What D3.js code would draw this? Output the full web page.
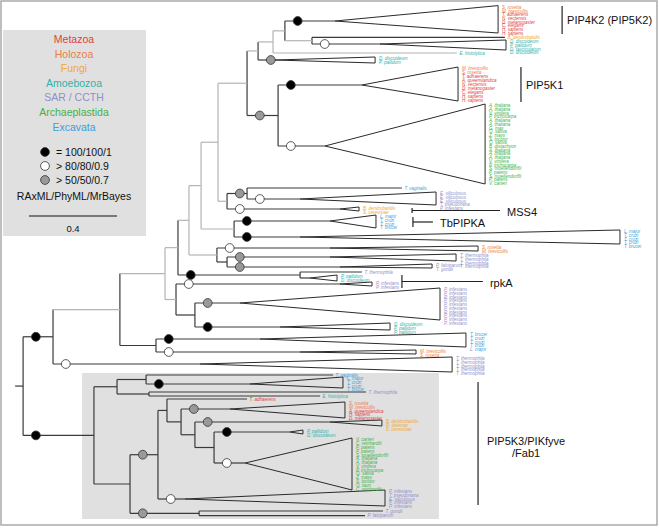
<!DOCTYPE html>
<html><head><meta charset="utf-8">
<script src="https://cdn.jsdelivr.net/npm/d3@7"></script>
<style>body{margin:0;background:#fff}svg{display:block}</style>
</head><body><svg id="c" width="659" height="528"></svg>
<script>
// ---------- DATA ----------
const groups = ["Metazoa","Holozoa","Fungi","Amoebozoa","SAR / CCTH","Archaeplastida","Excavata"];
const supportKeys = ["B","W","G"];
const supportLabels = ["= 100/100/1","> 80/80/0.9","> 50/50/0.7"];
const methodsLabel = "RAxML/PhyML/MrBayes";
const scaleBarValue = 0.4;

// internal nodes: [id, parent, depth (subst./site), support]  (support: B/W/G, "-" unmarked, "." unresolved)
const nodes = [
 ["R",null,0.105,"-"],["U","R",0.241,"B"],["X9","U",0.545,"."],["X3","X9",0.75,"."],
 ["Np","X3",0.809,"."],["Nl","Np",0.859,"."],["Nj","Nl",0.914,"."],["Ng","Nj",0.991,"."],
 ["Ne","Ng",1.123,"."],["Nd","Ne",1.173,"."],["Nc","Nd",1.241,"."],["Na","Nc",1.295,"."],
 ["Nb","Na",1.418,"."],["Nf","Ne",1.264,"G"],["Nh","Ng",1.032,"."],["Ni","Nh",1.123,"G"],
 ["Nk","Nj",1.064,"."],["Nm","Nl",0.986,"."],["Nn","Nm",1.032,"-"],["Rp","Np",1.364,"B"],
 ["X2","X3",0.8,"."],["X6","X2",0.886,"-"],["X4","X9",0.709,"-"],
 ["B0","R",0.427,"B"],["B1","B0",0.532,"-"],["B2","B1",0.664,"-"],["B3","B1",0.677,"-"],
 ["B5","B0",0.591,"-"],["B6","B5",0.718,"G"],["B7","B6",0.759,"-"],["B8","B7",0.823,"-"],
 ["B9","B8",0.886,"-"],["B9b","B9",0.973,"-"],["B10","B5",0.905,"G"]
];
// single tips: [id, parent, depth, row, support, name, group]
const leaves = [
 ["Fu1","Nb",2.295,9.35,"-","B. dendrobatidis",2],
 ["Eh1","Nc",2.077,13.25,".","E. histolytica",3],
 ["Tv1","Ni",1.827,47.0,"-","T. vaginalis",6],
 ["Tt1","Rp",1.645,68.0,"-","T. thermophila",4],
 ["Tv2","B2",1.514,93.75,"-","T. vaginalis",6],
 ["Tt2","B3",1.664,98.0,"-","T. thermophila",4],
 ["Eh2","B3",1.455,99.0,"-","E. histolytica",3],
 ["Ta","B7",1.123,99.75,"-","T. adhaerens",0],
 ["Tg","B10",1.741,127.75,"-","T. gondii",4],
 ["Pf","B10",1.659,128.9,"-","P. falciparum",4]
];
// collapsed clades: [id, parent, apex depth, tip depth, top row, bottom row, stem row, support]
const clades = [
 ["PIP4K2","Na",1.523,2.264,1.4,8.25,5.25,"B"],
 ["AmA","Nb",1.727,2.3,10,12.5,11,"W"],
 ["AmB","Nd",1.25,1.705,14.25,15.75,15,"G"],
 ["P5K1","Nf",1.645,2.082,16.75,25.25,21.25,"B"],
 ["ArA","Nf",1.477,2.205,26,46,36.5,"W"],
 ["SaA","Ni",1.364,1.982,48,51.25,49.75,"W"],
 ["FuM","Nh",1.545,1.632,51.75,52.75,52.25,"W"],
 ["TbP","Nk",1.5,1.709,53.75,57,55.25,"B"],
 ["ExL","Nk",1.364,2.818,57.5,61,59.25,"B"],
 ["Ho1","Nm",1.5,2.173,61.5,62.75,62,"W"],
 ["Tt4","Nn",1.5,2.073,63.5,65.25,64.25,"G"],
 ["PfT","Nn",1.545,1.964,66,67,66.75,"G"],
 ["AmR","Rp",1.409,1.532,68.75,70.25,69.5,"-"],
 ["PiB","X2",1.545,1.691,70.5,71.5,71,"W"],
 ["PiL","X6",1.091,2.0,72,80,75.75,"G"],
 ["AmC","X6",1.273,1.773,80.75,82.5,81.75,"B"],
 ["ExC","X4",1.182,2.118,83.25,86.75,84.75,"B"],
 ["Ho2","X4",1.364,1.891,87.5,88.5,88,"W"],
 ["Tt5","U",0.909,2.055,89.25,93,91,"W"],
 ["ExB","B2",1.136,1.559,94.25,97,96,"B"],
 ["MeB","B8",1.045,1.568,100.5,104.5,102.25,"G"],
 ["FuB","B9",1.5,1.736,105,106.5,105.5,"G"],
 ["AmB2","B9b",1.318,1.377,107.5,108.5,108,"B"],
 ["ArB","B9b",1.114,1.6,109.5,122.5,115.75,"W"],
 ["SaB","B6",0.841,1.75,122.5,126.5,124.75,"W"]
];
const rep = (n, g, s) => Array.from({length:n}, () => [g, s]);
// tip names of collapsed clades: [clade, [[group, name], ...]]
const cladeTips = [
 ["PIP4K2",[[1,"S. rosetta"],[1,"M. brevicollis"],[0,"T. adhaerens"],[0,"N. vectensis"],[0,"D. melanogaster"],[0,"C. elegans"],[0,"H. sapiens"],[0,"H. sapiens"]]],
 ["AmA",[[3,"D. discoideum"],[3,"P. pallidum"],[3,"D. fasciculatum"],[3,"D. discoideum"]]],
 ["AmB",[[3,"D. discoideum"],[3,"P. pallidum"]]],
 ["P5K1",[[1,"M. brevicollis"],[1,"S. rosetta"],[0,"T. adhaerens"],[0,"A. queenslandica"],[0,"N. vectensis"],[0,"D. melanogaster"],[0,"C. elegans"],[0,"H. sapiens"],[0,"H. sapiens"]]],
 ["ArA",[[5,"A. thaliana"],[5,"A. thaliana"],[5,"V. vinifera"],[5,"P. trichocarpa"],[5,"A. thaliana"],[5,"A. thaliana"],[5,"G. max"],[5,"O. sativa"],[5,"Z. mays"],[5,"S. bicolor"],[5,"O. sativa"],[5,"B. distachyon"],[5,"A. thaliana"],[5,"A. thaliana"],[5,"A. thaliana"],[5,"V. vinifera"],[5,"P. trichocarpa"],[5,"S. moellendorffii"],[5,"P. patens"],[5,"S. moellendorffii"],[5,"P. patens"],[5,"V. carteri"]]],
 ["SaA",[[4,"E. siliculosus"],[4,"E. siliculosus"],[4,"E. siliculosus"],[4,"T. pseudonana"],[4,"P. infestans"]]],
 ["FuM",[[2,"B. dendrobatidis"],[2,"S. cerevisiae"]]],
 ["TbP",[[6,"L. major"],[6,"T. cruzi"],[6,"T. cruzi"],[6,"T. brucei"]]],
 ["ExL",[[6,"L. major"],[6,"T. cruzi"],[6,"T. cruzi"],[6,"T. cruzi"],[6,"T. brucei"]]],
 ["Ho1",[[1,"S. rosetta"],[1,"M. brevicollis"]]],
 ["Tt4",rep(4,4,"T. thermophila")],
 ["PfT",[[4,"P. falciparum"],[4,"T. gondii"]]],
 ["AmR",[[3,"P. pallidum"],[3,"D. discoideum"]]],
 ["PiB",rep(2,4,"P. infestans")],
 ["PiL",rep(10,4,"P. infestans")],
 ["AmC",[[3,"D. discoideum"],[3,"P. pallidum"],[3,"P. pallidum"]]],
 ["ExC",[[6,"T. brucei"],[6,"T. cruzi"],[6,"T. cruzi"],[6,"T. cruzi"],[6,"L. major"]]],
 ["Ho2",[[1,"M. brevicollis"],[1,"S. rosetta"]]],
 ["Tt5",rep(5,4,"T. thermophila")],
 ["ExB",[[6,"L. major"],[6,"T. cruzi"],[6,"T. cruzi"],[6,"T. brucei"]]],
 ["MeB",[[1,"S. rosetta"],[1,"M. brevicollis"],[0,"A. queenslandica"],[0,"H. sapiens"],[0,"D. melanogaster"]]],
 ["FuB",[[2,"B. dendrobatidis"],[2,"R. delemar"],[2,"S. cerevisiae"]]],
 ["AmB2",[[3,"P. pallidum"],[3,"D. discoideum"]]],
 ["ArB",[[5,"V. carteri"],[5,"C. reinhardtii"],[5,"P. patens"],[5,"P. patens"],[5,"S. moellendorffii"],[5,"A. thaliana"],[5,"A. thaliana"],[5,"V. vinifera"],[5,"P. trichocarpa"],[5,"O. sativa"],[5,"Z. mays"],[5,"S. bicolor"],[5,"O. tauri"],[5,"C. reinhardtii"]]],
 ["SaB",[[4,"P. infestans"],[4,"T. pseudonana"],[4,"E. siliculosus"],[4,"P. infestans"],[4,"P. infestans"]]]
];
// family annotations: [text lines, bar depth, top row, bottom row, kind, line end depth]
const families = [
 [["PIP4K2 (PIP5K2)"],2.555,1.5,8.5,"bar",null],
 [["PIP5K1"],2.368,16.75,25.5,"bar",null],
 [["MSS4"],1.873,52.0,53.25,"tick",2.273],
 [["TbPIPKA"],1.877,54.25,56.75,"tick",1.968],
 [["rpkA"],1.827,68.75,72,"tick",2.195],
 [["PIP5K3/PIKfyve","/Fab1"],2.173,95.5,126.25,"bar",null]
];
// shaded PIP5K3 group: [left depth, right depth, top row, bottom row]
const shadedGroup = [0.373, 1.995, 93.25, 129.75];

// ---------- STYLE / LAYOUT ----------
const groupColors = ["#e2403d","#ee7c45","#f2a933","#2db3ac","#8f8fcd","#3db34a","#3b9fd9"];
const supportFill = {B:"#000", W:"#fff", G:"#999"};
const DARK = "#3a3a3a", LIGHT = "#b4b4b4";
const FONT = "'Liberation Sans', Arial, sans-serif";

const svg = d3.select("#c");
const x = d3.scaleLinear().domain([0, 3]).range([0, 660]);
const y = d3.scaleLinear().domain([0, 132]).range([0, 528]);

// frame
svg.append("rect").attr("x",1).attr("y",1).attr("width",656).attr("height",524)
   .attr("fill","none").attr("stroke","#aaa").attr("stroke-width",1.5);

// shaded group
svg.append("rect").attr("x",x(shadedGroup[0])).attr("y",y(shadedGroup[2]))
   .attr("width",x(shadedGroup[1])-x(shadedGroup[0])).attr("height",y(shadedGroup[3])-y(shadedGroup[2]))
   .attr("fill","#e0e0e0");

// ---------- build tree ----------
const byId = new Map();
nodes.forEach(d => byId.set(d[0], {id:d[0], parent:d[1], x:d[2], sup:d[3], type:"node", kids:[]}));
leaves.forEach(d => byId.set(d[0], {id:d[0], parent:d[1], x:d[2], y:d[3], sup:d[4], name:d[5], g:d[6], type:"leaf"}));
clades.forEach(d => byId.set(d[0], {id:d[0], parent:d[1], x:d[2], tip:d[3], top:d[4], bot:d[5], y:d[6], sup:d[7], type:"clade"}));
byId.forEach(n => { if (n.parent) byId.get(n.parent).kids.push(n); });
function setY(n){ if (n.type !== "node") return n.y;
  const ys = n.kids.map(setY); n.y = (d3.min(ys) + d3.max(ys)) / 2; n.lo = d3.min(ys); n.hi = d3.max(ys); return n.y; }
const root = byId.get("R"); setY(root);

const gTree = svg.append("g");
const all = Array.from(byId.values());
const colorOf = s => s === "." ? LIGHT : DARK;

// verticals
all.filter(n => n.type === "node").forEach(n => {
  const dark = n.kids.some(k => k.sup !== ".");
  gTree.append("line").attr("x1",x(n.x)).attr("x2",x(n.x)).attr("y1",y(n.lo)).attr("y2",y(n.hi))
    .attr("stroke", dark ? DARK : LIGHT).attr("stroke-width",1.2);
});
// root stub
gTree.append("line").attr("x1",x(root.x)-8).attr("x2",x(root.x)).attr("y1",y(root.y)).attr("y2",y(root.y))
  .attr("stroke",DARK).attr("stroke-width",1.2);
// horizontals
all.filter(n => n.parent).forEach(n => {
  const p = byId.get(n.parent);
  gTree.append("line").attr("x1",x(p.x)).attr("x2",x(n.x)).attr("y1",y(n.y)).attr("y2",y(n.y))
    .attr("stroke", n.type === "clade" ? DARK : colorOf(n.sup)).attr("stroke-width",1.2);
});
// triangles
all.filter(n => n.type === "clade").forEach(n => {
  gTree.append("path")
    .attr("d", `M${x(n.x)},${y(n.y)}L${x(n.tip)},${y(n.top)}L${x(n.tip)},${y(n.bot)}Z`)
    .attr("fill","none").attr("stroke","#2a2a2a").attr("stroke-width",1).attr("stroke-linejoin","miter");
});
// support dots
all.filter(n => n.parent && supportKeys.includes(n.sup)).forEach(n => {
  const p = byId.get(n.parent);
  gTree.append("circle").attr("cx", x(p.x + 0.058)).attr("cy", y(n.y)).attr("r",4.4)
    .attr("fill", supportFill[n.sup]).attr("stroke","#333").attr("stroke-width",0.8);
});

// tip labels
const gLab = svg.append("g").attr("font-family",FONT).attr("font-style","italic").attr("font-size",4.5);
leaves.forEach(d => {
  gLab.append("text").attr("x", x(d[2]) + 2.5).attr("y", y(d[3])).attr("dominant-baseline","central")
    .attr("fill", groupColors[d[6]]).text(d[5]);
});
cladeTips.forEach(([id, tips]) => {
  const c = byId.get(id);
  const span = y(c.bot) - y(c.top) + 1;
  const sp = Math.max(3.7, span / tips.length);
  tips.forEach(([g, s], i) => {
    gLab.append("text").attr("x", x(c.tip) + 4).attr("y", y(c.top) + (i + 0.5) * sp)
      .attr("dominant-baseline","central").attr("fill", groupColors[g]).text(s);
  });
});

// family annotations
const gFam = svg.append("g").attr("font-family",FONT).attr("font-size",11).attr("fill","#111");
families.forEach(([lines, bx, t, b, kind, end]) => {
  gFam.append("line").attr("x1",x(bx)).attr("x2",x(bx)).attr("y1",y(t)).attr("y2",y(b))
    .attr("stroke","#222").attr("stroke-width",1.2);
  if (kind === "tick") {
    const my = (y(t) + y(b)) / 2;
    gFam.append("line").attr("x1",x(bx)).attr("x2",x(end)).attr("y1",my).attr("y2",my)
      .attr("stroke","#222").attr("stroke-width",1.2);
    gFam.append("text").attr("x", x(end) + 7).attr("y", my + 1).attr("dominant-baseline","central").text(lines[0]);
  } else if (lines.length === 1) {
    gFam.append("text").attr("x", x(bx) + 5).attr("y", (y(t) + y(b)) / 2).attr("dominant-baseline","central").text(lines[0]);
  } else {
    const my = (y(t) + y(b)) / 2;
    lines.forEach((s, i) => gFam.append("text").attr("x", x(bx) + 48).attr("y", my + (i - 0.5) * 12 + 3)
      .attr("text-anchor","middle").attr("dominant-baseline","central").text(s));
  }
});

// ---------- legend ----------
const gL = svg.append("g").attr("font-family",FONT).attr("font-size",10.5);
gL.append("rect").attr("x",3).attr("y",30).attr("width",143).attr("height",206).attr("fill","#e0e0e0");
groups.forEach((g, i) => gL.append("text").attr("x",74).attr("y",39 + i * 14.6)
  .attr("text-anchor","middle").attr("dominant-baseline","central").attr("fill",groupColors[i]).text(g));
supportKeys.forEach((k, i) => {
  gL.append("circle").attr("cx",45).attr("cy",152 + i * 14).attr("r",4.4)
    .attr("fill",supportFill[k]).attr("stroke","#333").attr("stroke-width",0.8);
  gL.append("text").attr("x",56).attr("y",152 + i * 14).attr("dominant-baseline","central")
    .attr("fill","#111").text(supportLabels[i]);
});
gL.append("text").attr("x",74).attr("y",196).attr("text-anchor","middle").attr("dominant-baseline","central")
  .attr("fill","#111").text(methodsLabel);
const barLen = x(scaleBarValue) - x(0);
gL.append("line").attr("x1",29).attr("x2",29 + barLen).attr("y1",216).attr("y2",216).attr("stroke","#111").attr("stroke-width",1.2);
gL.append("text").attr("x",29 + barLen / 2).attr("y",228).attr("text-anchor","middle").attr("dominant-baseline","central")
  .attr("font-size",9.5).attr("fill","#111").text(scaleBarValue);
</script></body></html>
